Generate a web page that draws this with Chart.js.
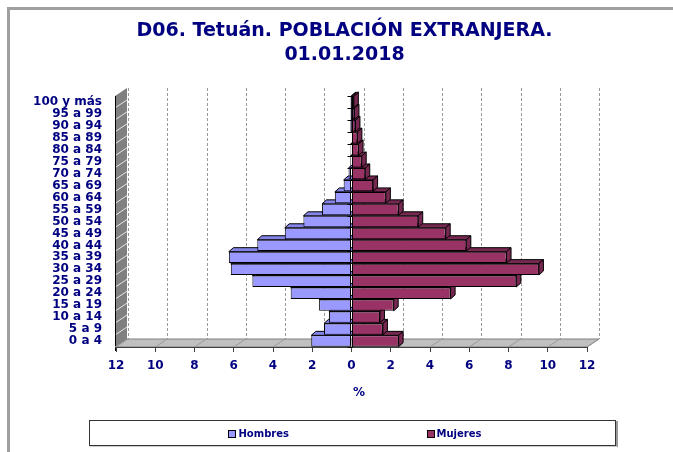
<!DOCTYPE html>
<html>
  <head>
    <meta charset="utf-8">
    <title>D06. Tetuán. Población extranjera 01.01.2018</title>
    <script src="https://cdn.jsdelivr.net/npm/chart.js"></script>
    <style>
      body { margin: 0; background: #fff; }
      #wrap { width: 673px; height: 452px; }
    </style>
  </head>

  <body>
    <div id="wrap"><canvas id="piramide"></canvas></div>
    <script>
      // grupos de edad, de abajo arriba
      var edades = ["0 a 4", "5 a 9", "10 a 14", "15 a 19", "20 a 24", "25 a 29",
        "30 a 34", "35 a 39", "40 a 44", "45 a 49", "50 a 54", "55 a 59",
        "60 a 64", "65 a 69", "70 a 74", "75 a 79", "80 a 84", "85 a 89",
        "90 a 94", "95 a 99", "100 y más"];
      // % sobre el total de población extranjera
      var hombres = [2.05, 1.4, 1.15, 1.65, 3.1, 5.05, 6.15, 6.25, 4.8, 3.4, 2.45,
        1.5, 0.85, 0.4, 0.15, 0.06, 0.05, 0.03, 0.02, 0.01, 0.01];
      var mujeres = [2.4, 1.6, 1.45, 2.15, 5.05, 8.4, 9.55, 7.9, 5.85, 4.8, 3.4,
        2.4, 1.75, 1.1, 0.7, 0.52, 0.36, 0.3, 0.2, 0.15, 0.12];
      var ejeX = ["12", "10", "8", "6", "4", "2", "0", "2", "4", "6", "8", "10", "12"];

      var AZUL = "#000080";
      var DX = 12, DY = -8;     // fondo de paredes y suelo
      var BDX = 4.5, BDY = -4;  // fondo de las barras

      Chart.defaults.font.family = "'DejaVu Sans', sans-serif";
      Chart.defaults.font.weight = "bold";

      function poly(ctx, pts, fill, stroke) {
        ctx.beginPath();
        ctx.moveTo(pts[0][0], pts[0][1]);
        for (var i = 1; i < pts.length; i++) ctx.lineTo(pts[i][0], pts[i][1]);
        ctx.closePath();
        if (fill) { ctx.fillStyle = fill; ctx.fill(); }
        if (stroke) { ctx.strokeStyle = stroke; ctx.stroke(); }
      }

      var efecto3d = {
        id: "efecto3d",
        beforeDraw: function (chart) {
          var ctx = chart.ctx, a = chart.chartArea, sx = chart.scales.x;
          ctx.save();
          ctx.fillStyle = "#fff";
          ctx.fillRect(0, 0, chart.width, chart.height);
          // marco exterior
          ctx.fillStyle = "#a0a0a0";
          ctx.fillRect(7, 7, chart.width - 7, 3);
          ctx.fillRect(7, 7, 3, chart.height - 7);

          // rejilla del fondo
          ctx.lineWidth = 1;
          ctx.strokeStyle = "#9a9a9a";
          ctx.setLineDash([3, 2]);
          sx.ticks.forEach(function (t) {
            var px = Math.round(sx.getPixelForValue(t.value) + DX) + 0.5;
            ctx.beginPath();
            ctx.moveTo(px, a.top + DY);
            ctx.lineTo(px, a.bottom + DY);
            ctx.stroke();
          });
          ctx.setLineDash([]);

          // pared izquierda
          var l = a.left - 1;
          poly(ctx, [[l, a.top], [l + DX, a.top + DY], [l + DX, a.bottom + DY], [l, a.bottom]], "#808080", null);
          var band = (a.bottom - a.top) / edades.length;
          ctx.strokeStyle = "#e8e8e8";
          for (var i = 1; i < edades.length; i++) {
            var yy = a.top + i * band;
            ctx.beginPath();
            ctx.moveTo(l, yy);
            ctx.lineTo(l + DX, yy + DY);
            ctx.stroke();
          }
          ctx.strokeStyle = "#000";
          ctx.beginPath();
          ctx.moveTo(l + 0.5, a.top);
          ctx.lineTo(l + 0.5, a.bottom + 4);
          ctx.stroke();

          // suelo
          poly(ctx, [[l, a.bottom], [a.right, a.bottom], [a.right + DX, a.bottom + DY], [l + DX, a.bottom + DY]], "#c0c0c0", "#808080");
          ctx.strokeStyle = "#9a9a9a";
          sx.ticks.forEach(function (t) {
            var px = sx.getPixelForValue(t.value);
            ctx.beginPath();
            ctx.moveTo(px, a.bottom);
            ctx.lineTo(px + DX, a.bottom + DY);
            ctx.stroke();
          });
          ctx.restore();
        },
        beforeDatasetsDraw: function (chart) {
          var ctx = chart.ctx;
          ctx.save();
          ctx.lineWidth = 1;
          chart.data.datasets.forEach(function (ds, di) {
            var meta = chart.getDatasetMeta(di);
            meta.data.forEach(function (el) {
              var p = el.getProps(["x", "y", "base", "height"], true);
              var left = Math.min(p.x, p.base), right = Math.max(p.x, p.base);
              var top = p.y - p.height / 2, bot = p.y + p.height / 2;
              poly(ctx, [[left, top], [right, top], [right + BDX, top + BDY], [left + BDX, top + BDY]], ds.topColor, "#000");
              if (p.x > p.base) {
                poly(ctx, [[right, top], [right + BDX, top + BDY], [right + BDX, bot + BDY], [right, bot]], ds.topColor, "#000");
              }
            });
          });
          ctx.restore();
        },
        afterDraw: function (chart) {
          var ctx = chart.ctx, a = chart.chartArea, sx = chart.scales.x;
          ctx.save();
          // eje vertical en el cero
          var x0 = Math.round(sx.getPixelForValue(0)) + 0.5;
          ctx.strokeStyle = "#000";
          ctx.lineWidth = 1;
          ctx.beginPath();
          ctx.moveTo(x0, a.top);
          ctx.lineTo(x0, a.bottom);
          var band = (a.bottom - a.top) / edades.length;
          for (var i = 0; i <= edades.length; i++) {
            var yy = Math.round(a.top + i * band) + 0.5;
            ctx.moveTo(x0 - 5, yy);
            ctx.lineTo(x0, yy);
          }
          ctx.stroke();

          // título del eje
          ctx.fillStyle = AZUL;
          ctx.font = "bold 12px 'DejaVu Sans'";
          ctx.textAlign = "center";
          ctx.textBaseline = "middle";
          ctx.fillText("%", 359, 393);

          // leyenda
          ctx.fillStyle = "#999";
          ctx.fillRect(616, 421, 2, 26);
          ctx.fillStyle = "#ccc";
          ctx.fillRect(90, 446, 527, 1);
          ctx.strokeStyle = "#333";
          ctx.strokeRect(89.5, 420.5, 526, 25);
          var pos = [[228, 238.5], [427, 436.5]];
          ctx.font = "bold 10px 'DejaVu Sans'";
          ctx.textAlign = "left";
          chart.data.datasets.forEach(function (ds, di) {
            ctx.fillStyle = ds.backgroundColor;
            ctx.fillRect(pos[di][0] + 0.5, 430.5, 7, 7);
            ctx.strokeStyle = "#000";
            ctx.strokeRect(pos[di][0] + 0.5, 430.5, 7, 7);
            ctx.fillStyle = AZUL;
            ctx.fillText(ds.label, pos[di][1], 434);
          });
          ctx.restore();
        }
      };

      var ctx = document.getElementById("piramide").getContext("2d");
      var piramide = new Chart(ctx, {
        type: "bar",
        data: {
          labels: edades,
          datasets: [
            {
              label: "Hombres",
              data: hombres.map(function (v) { return -v; }),
              backgroundColor: "#9999ff",
              topColor: "#8484e8",
              borderColor: "#000",
              borderWidth: 1,
              borderSkipped: false,
              barPercentage: 0.95,
              categoryPercentage: 1,
            },
            {
              label: "Mujeres",
              data: mujeres,
              backgroundColor: "#993366",
              topColor: "#772850",
              borderColor: "#000",
              borderWidth: 1,
              borderSkipped: false,
              barPercentage: 0.95,
              categoryPercentage: 1,
            },
          ],
        },
        options: {
          indexAxis: "y",
          responsive: true,
          maintainAspectRatio: false,
          animation: false,
          layout: { padding: { left: 16, right: 0, top: 0, bottom: 0 } },
          plugins: {
            legend: { display: false },
            tooltip: { enabled: false },
            title: {
              display: true,
              text: ["D06. Tetuán. POBLACIÓN EXTRANJERA.", "01.01.2018"],
              color: AZUL,
              font: { size: 19, weight: "bold", lineHeight: "24px" },
              padding: { top: 19, bottom: 29 },
            },
          },
          scales: {
            x: {
              type: "linear",
              stacked: true,
              min: -12,
              max: 12,
              ticks: {
                stepSize: 2,
                autoSkip: false,
                maxRotation: 0,
                color: AZUL,
                font: { size: 12, weight: "bold" },
                padding: 7,
                callback: function (v, i) { return ejeX[i]; },
              },
              grid: { drawOnChartArea: false, drawTicks: true, tickLength: 5, color: "#404040" },
              border: { display: true, color: "#404040" },
              afterFit: function (s) { s.height = 105; },
            },
            y: {
              type: "category",
              stacked: true,
              reverse: true,
              ticks: {
                autoSkip: false,
                color: AZUL,
                font: { size: 12, weight: "bold" },
                padding: 14,
              },
              grid: { display: false, drawTicks: false },
              border: { display: false },
              afterFit: function (s) { s.width = 100; },
            },
            // margen derecho vacío (deja el título centrado como en el original)
            margen: {
              type: "linear",
              position: "right",
              grid: { display: false, drawTicks: false },
              border: { display: false },
              ticks: { display: false },
              afterFit: function (s) { s.width = 86; },
            },
          },
        },
        plugins: [efecto3d],
      });
    </script>
  </body>
</html>
